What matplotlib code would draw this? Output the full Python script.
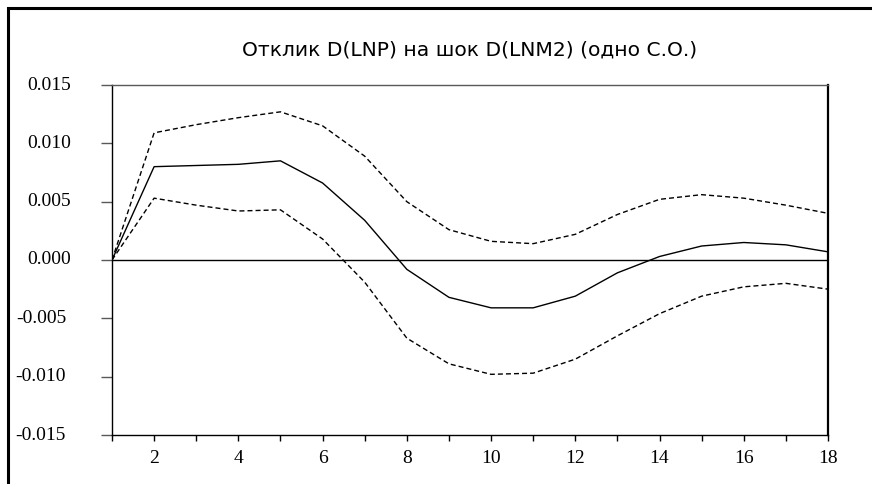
import matplotlib
matplotlib.use("Agg")

import matplotlib.pyplot as plt
import matplotlib.transforms as mtransforms
from matplotlib.patches import Rectangle


# impulse response of D(LNP) to a one-s.d. shock in D(LNM2), with +/- 2 s.e. bands
PERIODS = list(range(1, 19))
RESPONSE = [0.0, 0.0080, 0.0081, 0.0082, 0.0085, 0.0066, 0.0034, -0.0008, -0.0032,
            -0.0041, -0.0041, -0.0031, -0.0011, 0.0003, 0.0012, 0.0015, 0.0013, 0.0007]
UPPER = [0.0, 0.0109, 0.0116, 0.0122, 0.0127, 0.0115, 0.0089, 0.0050, 0.0026,
         0.0016, 0.0014, 0.0022, 0.0039, 0.0052, 0.0056, 0.0053, 0.0047, 0.0040]
LOWER = [0.0, 0.0053, 0.0047, 0.0042, 0.0043, 0.0018, -0.0019, -0.0067, -0.0089,
         -0.0098, -0.0097, -0.0085, -0.0065, -0.0046, -0.0031, -0.0023, -0.0020, -0.0025]

Y_TICKS = [-0.015, -0.010, -0.005, 0.000, 0.005, 0.010, 0.015]
TITLE = "Отклик D(LNP) на шок D(LNM2) (одно С.О.)"

SERIF = ["Liberation Serif", "DejaVu Serif"]
LABEL_SIZE = 14
DASHES = (3.6, 2.2)
W, H = 872, 485


def main():
    fig = plt.figure(figsize=(W / 100, H / 100), dpi=100)
    ax = fig.add_axes([112 / W, 1 - 436 / H, 716 / W, 350 / H])

    ax.axhline(0.0, color="black", lw=1.0, zorder=1)
    ax.plot(PERIODS, RESPONSE, color="black", lw=1.0)
    ax.plot(PERIODS, UPPER, color="black", lw=1.0, ls=(0, DASHES))
    ax.plot(PERIODS, LOWER, color="black", lw=1.0, ls=(0, DASHES))

    ax.set_xlim(1, 18)
    ax.set_ylim(-0.015, 0.015)

    ax.set_xticks(PERIODS)
    ax.set_xticklabels([str(p) if p % 2 == 0 else "" for p in PERIODS],
                       family=SERIF, fontsize=LABEL_SIZE)
    ax.tick_params(axis="x", direction="out", length=4, width=1, pad=6)

    # y labels sit a little above their ticks; negatives end a few px further left
    ax.set_yticks(Y_TICKS)
    ax.set_yticklabels([])
    ax.tick_params(axis="y", direction="out", length=8, width=1, color="0.35")
    label_tr = mtransforms.blended_transform_factory(fig.transFigure, ax.transData)
    for value in Y_TICKS:
        right_px = 66 if value < 0 else 71
        tr = label_tr + mtransforms.ScaledTranslation(0, 1.0 / 100, fig.dpi_scale_trans)
        ax.text(right_px / W, value, f"{value:.3f}", transform=tr,
                ha="right", va="center", family=SERIF, fontsize=LABEL_SIZE,
                clip_on=False)

    for side in ("left", "bottom"):
        ax.spines[side].set_linewidth(1.0)
        ax.spines[side].set_color("black")
    ax.spines["top"].set_linewidth(1.0)
    ax.spines["top"].set_color("0.35")
    ax.spines["right"].set_linewidth(1.6)
    ax.spines["right"].set_color("black")

    fig.text(470 / W, 1 - 50 / H, TITLE, ha="center", va="center",
             fontsize=14.6, family="DejaVu Sans")

    # outer frame, open at the right and bottom edges
    frame = Rectangle((8 / W, -0.05), 1.2, 1.05 - 8.5 / H,
                      transform=fig.transFigure, fill=False,
                      edgecolor="black", lw=2.2)
    fig.patches.append(frame)

    fig.savefig("out.png", dpi=100)
    plt.close(fig)


if __name__ == "__main__":
    main()
